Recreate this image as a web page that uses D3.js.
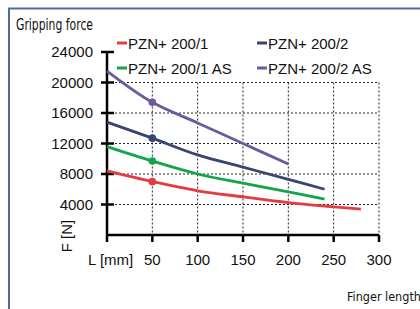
<!DOCTYPE html>
<html>
<head>
<meta charset="utf-8">
<script src="https://cdn.jsdelivr.net/npm/d3@7"></script>
<style>
  body { margin: 0; background: #fff; }
  svg { display: block; }
  .lbl { font-family: "Liberation Sans", Arial, sans-serif; font-size: 15px; fill: #111; }
  .cond { font-family: "Liberation Sans Narrow", "DejaVu Sans Condensed", sans-serif; font-size: 16px; fill: #111; }
</style>
</head>
<body>
<script>
// finger length (mm) and gripping force (N) per gripper
var xTicks = [50, 100, 150, 200, 250, 300];
var yTicks = [4000, 8000, 12000, 16000, 20000, 24000];

var red    = [[0, 8400], [50, 7000], [100, 5800], [150, 5000], [200, 4250], [250, 3700], [280, 3400]];
var blue   = [[0, 14800], [50, 12700], [100, 10500], [150, 8900], [200, 7300], [240, 6000]];
var green  = [[0, 11600], [50, 9700], [100, 8000], [150, 6800], [200, 5650], [240, 4700]];
var purple = [[0, 21500], [50, 17400], [100, 14700], [150, 12000], [200, 9300]];

var series = [
  {name: "PZN+ 200/1", color: "#e53a3f", data: red},
  {name: "PZN+ 200/2", color: "#36466e", data: blue},
  {name: "PZN+ 200/1 AS", color: "#14a54a", data: green},
  {name: "PZN+ 200/2 AS", color: "#6c5a9e", data: purple}
];

var svg = d3.select("body").append("svg")
  .attr("width", 420)
  .attr("height", 309);

// frame
svg.append("path")
  .attr("d", "M9,309 V8.5 H420")
  .attr("fill", "none")
  .attr("stroke", "#4d6f95")
  .attr("stroke-width", 2);

var x = d3.scaleLinear().domain([0, 300]).range([107, 379]);
var y = d3.scaleLinear().domain([0, 24000]).range([235, 52]);

// grid
var grid = svg.append("g").attr("stroke", "#222").attr("stroke-width", 1).attr("stroke-dasharray", "2,2");
grid.selectAll("line.v").data(xTicks).enter().append("line")
  .attr("x1", function(d) { return x(d); }).attr("x2", function(d) { return x(d); })
  .attr("y1", y(20000)).attr("y2", y(0));
grid.selectAll("line.h").data(yTicks.filter(function(d) { return d <= 20000; })).enter().append("line")
  .attr("x1", x(0)).attr("x2", x(300))
  .attr("y1", function(d) { return y(d); }).attr("y2", function(d) { return y(d); });

// axes
var axes = svg.append("g").attr("stroke", "#000").attr("stroke-width", 2.5);
axes.append("line").attr("x1", x(0)).attr("x2", x(0)).attr("y1", y(24000)).attr("y2", y(0));
axes.append("line").attr("x1", x(0)).attr("x2", x(300)).attr("y1", y(0)).attr("y2", y(0));
axes.selectAll("line.yt").data(yTicks).enter().append("line")
  .attr("x1", x(0) - 6).attr("x2", x(0) + 7)
  .attr("y1", function(d) { return y(d); }).attr("y2", function(d) { return y(d); });
axes.selectAll("line.xt").data(xTicks.concat([0])).enter().append("line")
  .attr("x1", function(d) { return x(d); }).attr("x2", function(d) { return x(d); })
  .attr("y1", y(0)).attr("y2", y(0) + 7);

svg.selectAll("text.yl").data(yTicks).enter().append("text")
  .attr("class", "lbl")
  .attr("x", 93)
  .attr("y", function(d) { return y(d) + 5; })
  .attr("text-anchor", "end")
  .text(function(d) { return d; });

svg.selectAll("text.xl").data(xTicks).enter().append("text")
  .attr("class", "lbl")
  .attr("x", function(d) { return x(d); })
  .attr("y", 265)
  .attr("text-anchor", "middle")
  .text(function(d) { return d; });

svg.append("text").attr("class", "lbl").attr("x", 88).attr("y", 265).text("L [mm]");
svg.append("text").attr("class", "lbl")
  .attr("transform", "translate(72,236) rotate(-90)")
  .attr("text-anchor", "middle")
  .text("F [N]");

svg.append("text").attr("class", "cond").attr("x", 16).attr("y", 30)
  .attr("textLength", 77).attr("lengthAdjust", "spacingAndGlyphs")
  .text("Gripping force");
svg.append("text").attr("class", "cond").attr("x", 347).attr("y", 301)
  .style("font-size", "12.5px")
  .text("Finger length");

// lines
var line = d3.line()
  .x(function(d) { return x(d[0]); })
  .y(function(d) { return y(d[1]); })
  .curve(d3.curveCatmullRom);

svg.selectAll("path.s").data(series).enter().append("path")
  .attr("fill", "none")
  .attr("stroke", function(d) { return d.color; })
  .attr("stroke-width", 2.8)
  .attr("d", function(d) { return line(d.data); });

svg.selectAll("circle.m").data(series).enter().append("circle")
  .attr("cx", function(d) { return x(d.data[1][0]); })
  .attr("cy", function(d) { return y(d.data[1][1]); })
  .attr("r", 3.8)
  .attr("fill", function(d) { return d.color; });

// legend
var leg = svg.selectAll("g.leg").data(series).enter().append("g")
  .attr("transform", function(d, i) {
    return "translate(" + (i % 2 ? 257 : 117) + "," + (i < 2 ? 43 : 68) + ")";
  });
leg.append("line").attr("x1", 0).attr("x2", 10).attr("y1", 0).attr("y2", 0)
  .attr("stroke", function(d) { return d.color; }).attr("stroke-width", 3);
leg.append("text").attr("class", "lbl").attr("x", 11).attr("y", 5.5)
  .text(function(d) { return d.name; });
</script>
</body>
</html>
